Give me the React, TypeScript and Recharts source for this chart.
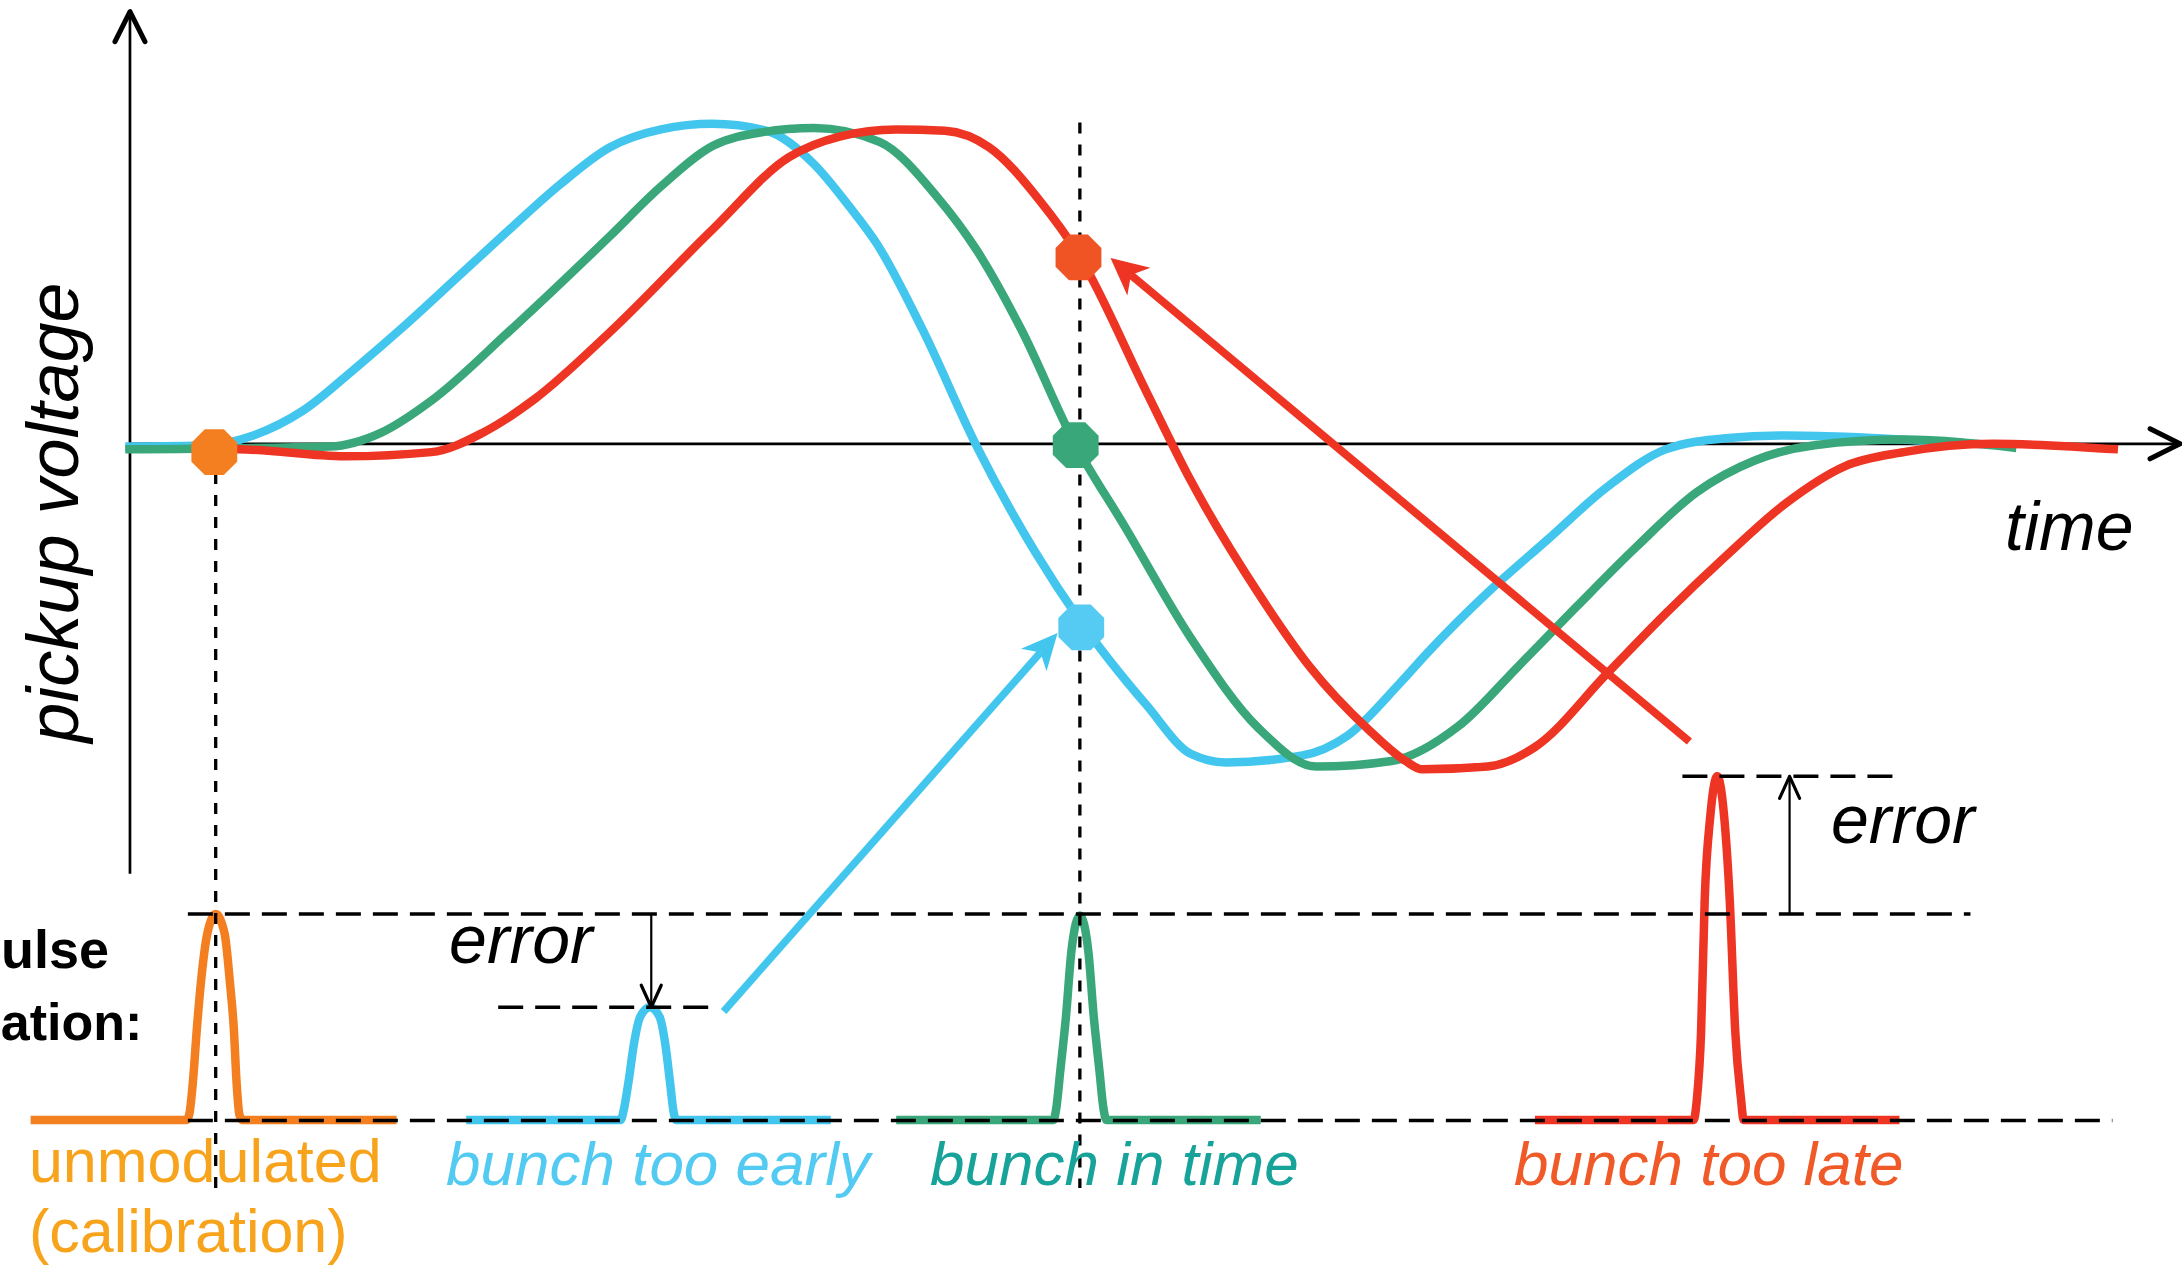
import React from "react";
import { ComposedChart, Line, XAxis, YAxis, ReferenceLine, ReferenceDot } from "recharts";

const WIDTH = 2182;
const HEIGHT = 1266;
const FONT = "'Liberation Sans', Arial, Helvetica, sans-serif";

// axes (time and pickup voltage, arbitrary units)
const timeDomain = [0, 1568];
const voltDomain = [-591, 319];

// pickup waveforms
const earlyTime = [90, 150, 182, 218, 255, 292, 328, 365, 402, 438, 475, 512, 551, 585, 610, 630, 663, 702, 744, 776, 824, 856, 881, 936, 968, 1006, 1026, 1069, 1112, 1155, 1197, 1240, 1283, 1326, 1368, 1400];
const earlyVolt = [-2, -1, 6, 24, 54, 86, 119, 153, 186, 213, 226, 230, 225, 201, 171, 144, 82, -2, -78, -127, -188, -223, -229, -224, -210, -172, -150, -107, -69, -31, -4, 4, 6, 5, 3, 1];

const inTimeTime = [90, 237, 274, 310, 365, 438, 475, 512, 548, 585, 632, 673, 702, 734, 772, 808, 856, 904, 946, 1000, 1048, 1091, 1133, 1176, 1219, 1261, 1304, 1368, 1449];
const inTimeVolt = [-4, -2, 8, 31, 80, 149, 185, 214, 224, 227, 217, 178, 139, 82, 1, -59, -140, -204, -232, -228, -203, -160, -117, -74, -35, -12, -1, 3, -3];

const lateTime = [150, 171, 248, 310, 347, 384, 438, 512, 567, 604, 644, 679, 711, 747, 775, 824, 856, 904, 941, 984, 1010, 1022, 1069, 1103, 1155, 1197, 1240, 1283, 1326, 1368, 1432, 1522];
const lateVolt = [-6, -4, -9, -6, 8, 32, 80, 154, 206, 221, 226, 225, 213, 175, 136, 37, -27, -107, -160, -206, -228, -234, -232, -218, -165, -122, -81, -43, -16, -6, 0, -4];

// detected pulses (lower panel)
const calibPulseTime = [22, 134, 136, 138.6, 141.5, 144.4, 149, 155, 161.4, 165.2, 168, 170, 172, 174, 285];
const calibPulseVolt = [-486, -486, -482, -459, -420, -387, -352, -338, -352, -387, -420, -459, -482, -486, -486];

const earlyPulseTime = [335, 446, 448, 451.6, 455.6, 460, 467, 474, 478, 481.5, 484, 486, 597];
const earlyPulseVolt = [-486, -486, -480, -459, -431, -412, -405, -412, -431, -459, -480, -486, -486];

const inTimePulseTime = [644, 757, 759, 762, 766, 770, 776, 782, 786, 790, 793, 795, 906];
const inTimePulseVolt = [-486, -486, -478, -450, -412, -364, -339, -364, -412, -450, -478, -486, -486];

const latePulseTime = [1103, 1217, 1219.5, 1222.4, 1225, 1229, 1234, 1239, 1243, 1247, 1251, 1253, 1365];
const latePulseVolt = [-486, -486, -470, -423, -328, -268, -239, -268, -328, -423, -470, -486, -486];

// levels and sampling instants
const pulseBase = -486.5;
const calibPeak = -338;
const earlyPeak = -405;
const latePeak = -239;
const calibInstant = 155;
const sampleInstant = 776;

// sampled voltages (octagon markers)
const sampleDots = [
  { t: 154, v: -6, color: "#F47F20" },
  { t: 775, v: 134, color: "#F15424" },
  { t: 773, v: -1, color: "#3AA77B" },
  { t: 777, v: -132, color: "#55CAF2" },
];

const zip = (ts: number[], vs: number[]) => ts.map((t, i) => ({ t, v: vs[i] }));

const octagon = (cx: number, cy: number, r: number) => {
  const pts: string[] = [];
  for (let k = 0; k < 8; k++) {
    const a = Math.PI / 8 + (k * Math.PI) / 4;
    pts.push(`${cx + r * Math.cos(a)},${cy + r * Math.sin(a)}`);
  }
  return pts.join(" ");
};

function openArrow(color: string, width: number, headLen: number, headHalf: number, headWidth: number) {
  return (p: any) => {
    const { x1, y1, x2, y2 } = p;
    const len = Math.hypot(x2 - x1, y2 - y1) || 1;
    const ux = (x2 - x1) / len;
    const uy = (y2 - y1) / len;
    const bx = x2 - ux * headLen;
    const by = y2 - uy * headLen;
    const w1 = `${bx - uy * headHalf},${by + ux * headHalf}`;
    const w2 = `${bx + uy * headHalf},${by - ux * headHalf}`;
    return (
      <g>
        <line x1={x1} y1={y1} x2={x2} y2={y2} stroke={color} strokeWidth={width} />
        <polyline
          points={`${w1} ${x2},${y2} ${w2}`}
          fill="none"
          stroke={color}
          strokeWidth={headWidth}
          strokeLinecap="round"
          strokeLinejoin="round"
        />
      </g>
    );
  };
}

function solidArrow(color: string, width: number, headLen: number, headHalf: number) {
  return (p: any) => {
    const { x1, y1, x2, y2 } = p;
    const len = Math.hypot(x2 - x1, y2 - y1) || 1;
    const ux = (x2 - x1) / len;
    const uy = (y2 - y1) / len;
    const bx = x2 - ux * headLen;
    const by = y2 - uy * headLen;
    const notch = headLen * 0.72;
    const nx = x2 - ux * notch;
    const ny = y2 - uy * notch;
    const w1 = `${bx - uy * headHalf},${by + ux * headHalf}`;
    const w2 = `${bx + uy * headHalf},${by - ux * headHalf}`;
    return (
      <g>
        <line x1={x1} y1={y1} x2={nx} y2={ny} stroke={color} strokeWidth={width} />
        <polygon points={`${x2},${y2} ${w1} ${nx},${ny} ${w2}`} fill={color} />
      </g>
    );
  };
}

type TextStyle = {
  size: number;
  color?: string;
  italic?: boolean;
  bold?: boolean;
  anchor?: "start" | "middle" | "end";
  rotate?: number;
};

function textAt(content: string, s: TextStyle) {
  return (p: any) => (
    <text
      x={p.cx}
      y={p.cy}
      fontFamily={FONT}
      fontSize={s.size}
      fontStyle={s.italic ? "italic" : "normal"}
      fontWeight={s.bold ? 700 : 400}
      fill={s.color ?? "#000"}
      textAnchor={s.anchor ?? "start"}
      transform={s.rotate ? `rotate(${s.rotate}, ${p.cx}, ${p.cy})` : undefined}
    >
      {content}
    </text>
  );
}

const dash = { stroke: "#000", strokeWidth: 3.5, strokeDasharray: "25 12" };
const vdash = { stroke: "#000", strokeWidth: 3.3, strokeDasharray: "11 11" };
const CURVE_W = 8.5;
const PULSE_W = 8.5;

export default function App() {
  return (
    <div style={{ width: WIDTH, height: HEIGHT, background: "#fff" }}>
      <style>{"body{margin:0;background:#fff}"}</style>
      <ComposedChart width={WIDTH} height={HEIGHT} margin={{ top: 0, right: 0, bottom: 0, left: 0 }}>
        <XAxis type="number" dataKey="t" domain={timeDomain} allowDataOverflow hide />
        <YAxis type="number" dataKey="v" domain={voltDomain} allowDataOverflow hide />

        {/* axes */}
        <ReferenceLine
          segment={[{ x: 93.4, y: -309 }, { x: 93.4, y: 310.6 }]}
          shape={openArrow("#000", 2.7, 30, 15, 5)}
        />
        <ReferenceLine
          segment={[{ x: 93.4, y: 0 }, { x: 1566.6, y: 0 }]}
          shape={openArrow("#000", 2.7, 30, 15, 5)}
        />

        {/* waveforms */}
        <Line data={zip(earlyTime, earlyVolt)} dataKey="v" type="monotone" stroke="#43C6EE" strokeWidth={CURVE_W} dot={false} activeDot={false} isAnimationActive={false} />
        <Line data={zip(inTimeTime, inTimeVolt)} dataKey="v" type="monotone" stroke="#3AA77B" strokeWidth={CURVE_W} dot={false} activeDot={false} isAnimationActive={false} />
        <Line data={zip(lateTime, lateVolt)} dataKey="v" type="monotone" stroke="#EE3524" strokeWidth={CURVE_W} dot={false} activeDot={false} isAnimationActive={false} />

        {/* pulses */}
        <Line data={zip(calibPulseTime, calibPulseVolt)} dataKey="v" type="monotone" stroke="#F47F20" strokeWidth={PULSE_W} dot={false} activeDot={false} isAnimationActive={false} />
        <Line data={zip(earlyPulseTime, earlyPulseVolt)} dataKey="v" type="monotone" stroke="#43C6EE" strokeWidth={PULSE_W} dot={false} activeDot={false} isAnimationActive={false} />
        <Line data={zip(inTimePulseTime, inTimePulseVolt)} dataKey="v" type="monotone" stroke="#3AA77B" strokeWidth={PULSE_W} dot={false} activeDot={false} isAnimationActive={false} />
        <Line data={zip(latePulseTime, latePulseVolt)} dataKey="v" type="monotone" stroke="#EE3524" strokeWidth={PULSE_W} dot={false} activeDot={false} isAnimationActive={false} />

        {/* sampling instants */}
        <ReferenceLine segment={[{ x: calibInstant, y: -21 }, { x: calibInstant, y: -536 }]} {...vdash} />
        <ReferenceLine segment={[{ x: sampleInstant, y: 231 }, { x: sampleInstant, y: -535 }]} {...vdash} />

        {/* pulse levels */}
        <ReferenceLine segment={[{ x: 135, y: calibPeak }, { x: 1416, y: calibPeak }]} {...dash} />
        <ReferenceLine segment={[{ x: 135, y: pulseBase }, { x: 1518, y: pulseBase }]} {...dash} />
        <ReferenceLine segment={[{ x: 358, y: earlyPeak }, { x: 510, y: earlyPeak }]} {...dash} />
        <ReferenceLine segment={[{ x: 1209, y: latePeak }, { x: 1360, y: latePeak }]} {...dash} />

        {/* error arrows */}
        <ReferenceLine segment={[{ x: 468, y: calibPeak }, { x: 468, y: earlyPeak }]} shape={openArrow("#000", 2.2, 22, 10, 3.2)} />
        <ReferenceLine segment={[{ x: 1286, y: calibPeak }, { x: 1286, y: latePeak }]} shape={openArrow("#000", 2.2, 22, 10, 3.2)} />

        {/* pulse -> sample arrows */}
        <ReferenceLine segment={[{ x: 520, y: -408 }, { x: 760, y: -136 }]} shape={solidArrow("#43C6EE", 7.5, 36, 17)} />
        <ReferenceLine segment={[{ x: 1214, y: -214 }, { x: 798, y: 133.6 }]} shape={solidArrow("#EE3524", 8, 37, 18)} />

        {sampleDots.map((d) => (
          <ReferenceDot
            key={`${d.t}-${d.v}`}
            x={d.t}
            y={d.v}
            r={0}
            shape={(p: any) => <polygon points={octagon(p.cx, p.cy, 24.8)} fill={d.color} />}
          />
        ))}

        {/* text */}
        <ReferenceDot x={56} y={-49.4} r={0} shape={textAt("pickup voltage", { size: 72, italic: true, anchor: "middle", rotate: -90 })} />
        <ReferenceDot x={1440.8} y={-76.3} r={0} shape={textAt("time", { size: 68, italic: true })} />
        <ReferenceDot x={322.7} y={-373.2} r={0} shape={textAt("error", { size: 68, italic: true })} />
        <ReferenceDot x={1315.8} y={-287} r={0} shape={textAt("error", { size: 68, italic: true })} />
        <ReferenceDot x={78.3} y={-376.8} r={0} shape={textAt("ulse", { size: 54, bold: true, anchor: "end" })} />
        <ReferenceDot x={0.6} y={-428.6} r={0} shape={textAt("ation:", { size: 52, bold: true })} />
        <ReferenceDot x={20.8} y={-530.6} r={0} shape={textAt("unmodulated", { size: 61, color: "#F7A31C" })} />
        <ReferenceDot x={20.8} y={-581} r={0} shape={textAt("(calibration)", { size: 61, color: "#F7A31C" })} />
        <ReferenceDot x={320.5} y={-532.8} r={0} shape={textAt("bunch too early", { size: 62, italic: true, color: "#52CAF1" })} />
        <ReferenceDot x={668.3} y={-532.8} r={0} shape={textAt("bunch in time", { size: 62, italic: true, color: "#17A39A" })} />
        <ReferenceDot x={1088} y={-532.8} r={0} shape={textAt("bunch too late", { size: 62, italic: true, color: "#F05A28" })} />
      </ComposedChart>
    </div>
  );
}
